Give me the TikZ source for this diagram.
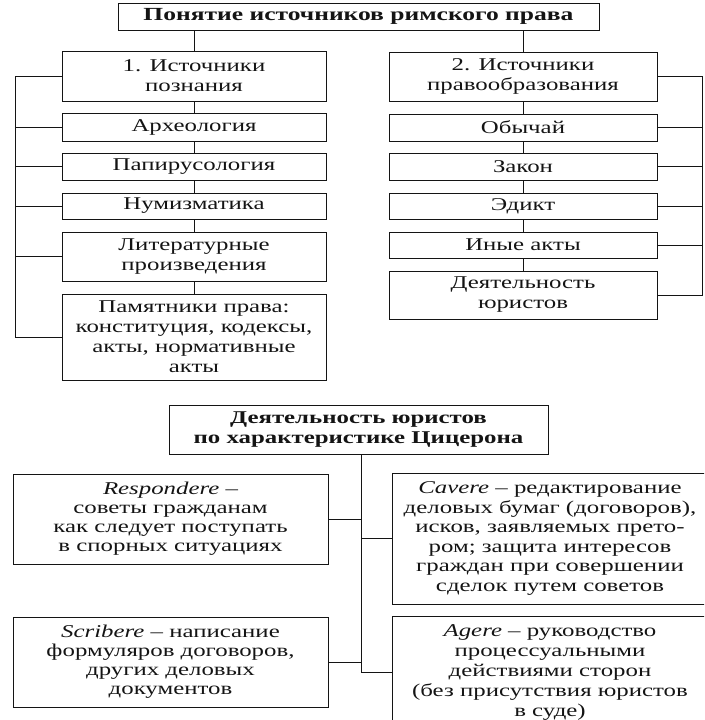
\documentclass[tikz,border=0pt]{standalone}
\usepackage{fontspec}
\setmainfont[FakeStretch=1.38]{Liberation Serif}
\definecolor{ink}{HTML}{141414}
\begin{document}
\begin{tikzpicture}[x=1pt,y=-1pt,
  box/.style={draw=ink, line width=1pt, align=center, inner sep=0pt, text=ink,
    font=\fontsize{18}{20}\selectfont},
  link/.style={draw=ink, line width=1pt}]
\useasboundingbox (0,0) rectangle (704,720);
\clip (0,0) rectangle (704,720);
% top
\node[box, minimum width=481pt, minimum height=27pt, font=\fontsize{18.5}{20}\selectfont] (title) at (358.5,16.5) {\textbf{Понятие источников римского права}};
\node[box, minimum width=264pt, minimum height=50pt] (lbox) at (194,76) {1. Источники\\познания};
\node[box, minimum width=268pt, minimum height=49pt] (rbox) at (523,76.5) {2. Источники\\правообразования};
% left column
\node[box, minimum width=264pt, minimum height=28pt] (arch) at (194,127) {Археология};
\node[box, minimum width=264pt, minimum height=27pt] (pap) at (194,166.5) {Папирусология};
\node[box, minimum width=264pt, minimum height=26pt] (num) at (194,206) {Нумизматика};
\node[box, minimum width=264pt, minimum height=49pt] (lit) at (194,256.5) {Литературные\\произведения};
\node[box, minimum width=264pt, minimum height=86pt] (pam) at (194,337) {Памятники права:\\конституция, кодексы,\\акты, нормативные\\акты};
% right column
\node[box, minimum width=268pt, minimum height=27pt] (obych) at (523,127.5) {Обычай};
\node[box, minimum width=268pt, minimum height=27pt] (zakon) at (523,166.5) {Закон};
\node[box, minimum width=268pt, minimum height=26pt] (edikt) at (523,206) {Эдикт};
\node[box, minimum width=268pt, minimum height=26pt] (inye) at (523,245) {Иные акты};
\node[box, minimum width=268pt, minimum height=48pt] (deyat) at (523,295) {Деятельность\\юристов};
% connectors top
\draw[link] (lbox.north) -- (lbox.north |- title.south);
\draw[link] (rbox.north) -- (rbox.north |- title.south);
\draw[link] (lbox.south) -- (arch.north);
\draw[link] (arch.south) -- (pap.north);
\draw[link] (pap.south) -- (num.north);
\draw[link] (num.south) -- (lit.north);
\draw[link] (lit.south) -- (pam.north);
\draw[link] (rbox.south) -- (obych.north);
\draw[link] (obych.south) -- (zakon.north);
\draw[link] (zakon.south) -- (edikt.north);
\draw[link] (edikt.south) -- (inye.north);
\draw[link] (inye.south) -- (deyat.north);
\coordinate (lb) at (15,76);
\draw[link] (lbox.west) -- (lb) |- (pam.west);
\foreach \n in {arch,pap,num,lit} \draw[link] (\n.west) -- (\n.west -| lb);
\coordinate (rb) at (702,76.5);
\draw[link] (rbox.east) -- (rb) |- (deyat.east);
\foreach \n in {obych,zakon,edikt,inye} \draw[link] (\n.east) -- (\n.east -| rb);
% bottom
\node[box, minimum width=379pt, minimum height=49pt] (head) at (358.5,429.5) {\textbf{Деятельность юристов}\\\textbf{по характеристике Цицерона}};
\node[box, minimum width=315pt, minimum height=90pt, font=\fontsize{18}{19}\selectfont] (resp) at (170.5,519) {\textit{Respondere} –\\советы гражданам\\как следует поступать\\в спорных ситуациях};
\node[box, minimum width=316pt, minimum height=131pt, font=\fontsize{18}{19.5}\selectfont] (cav) at (550,538.5) {\textit{Cavere} – редактирование\\деловых бумаг (договоров),\\исков, заявляемых прето-\\ром; защита интересов\\граждан при совершении\\сделок путем советов};
\node[box, minimum width=315pt, minimum height=90pt, font=\fontsize{18}{19}\selectfont] (scr) at (170.5,662) {\textit{Scribere} – написание\\формуляров договоров,\\других деловых\\документов};
\node[box, minimum width=316pt, minimum height=112pt] (ager) at (550,672) {\textit{Agere} – руководство\\процессуальными\\действиями сторон\\(без присутствия юристов\\в суде)};
\coordinate (vb) at (361,672);
\draw[link] (head.south -| vb) -- (vb) -- (ager.west);
\draw[link] (resp.east) -- (resp.east -| vb);
\draw[link] (cav.west) -- (cav.west -| vb);
\draw[link] (scr.east) -- (scr.east -| vb);
\end{tikzpicture}
\end{document}
